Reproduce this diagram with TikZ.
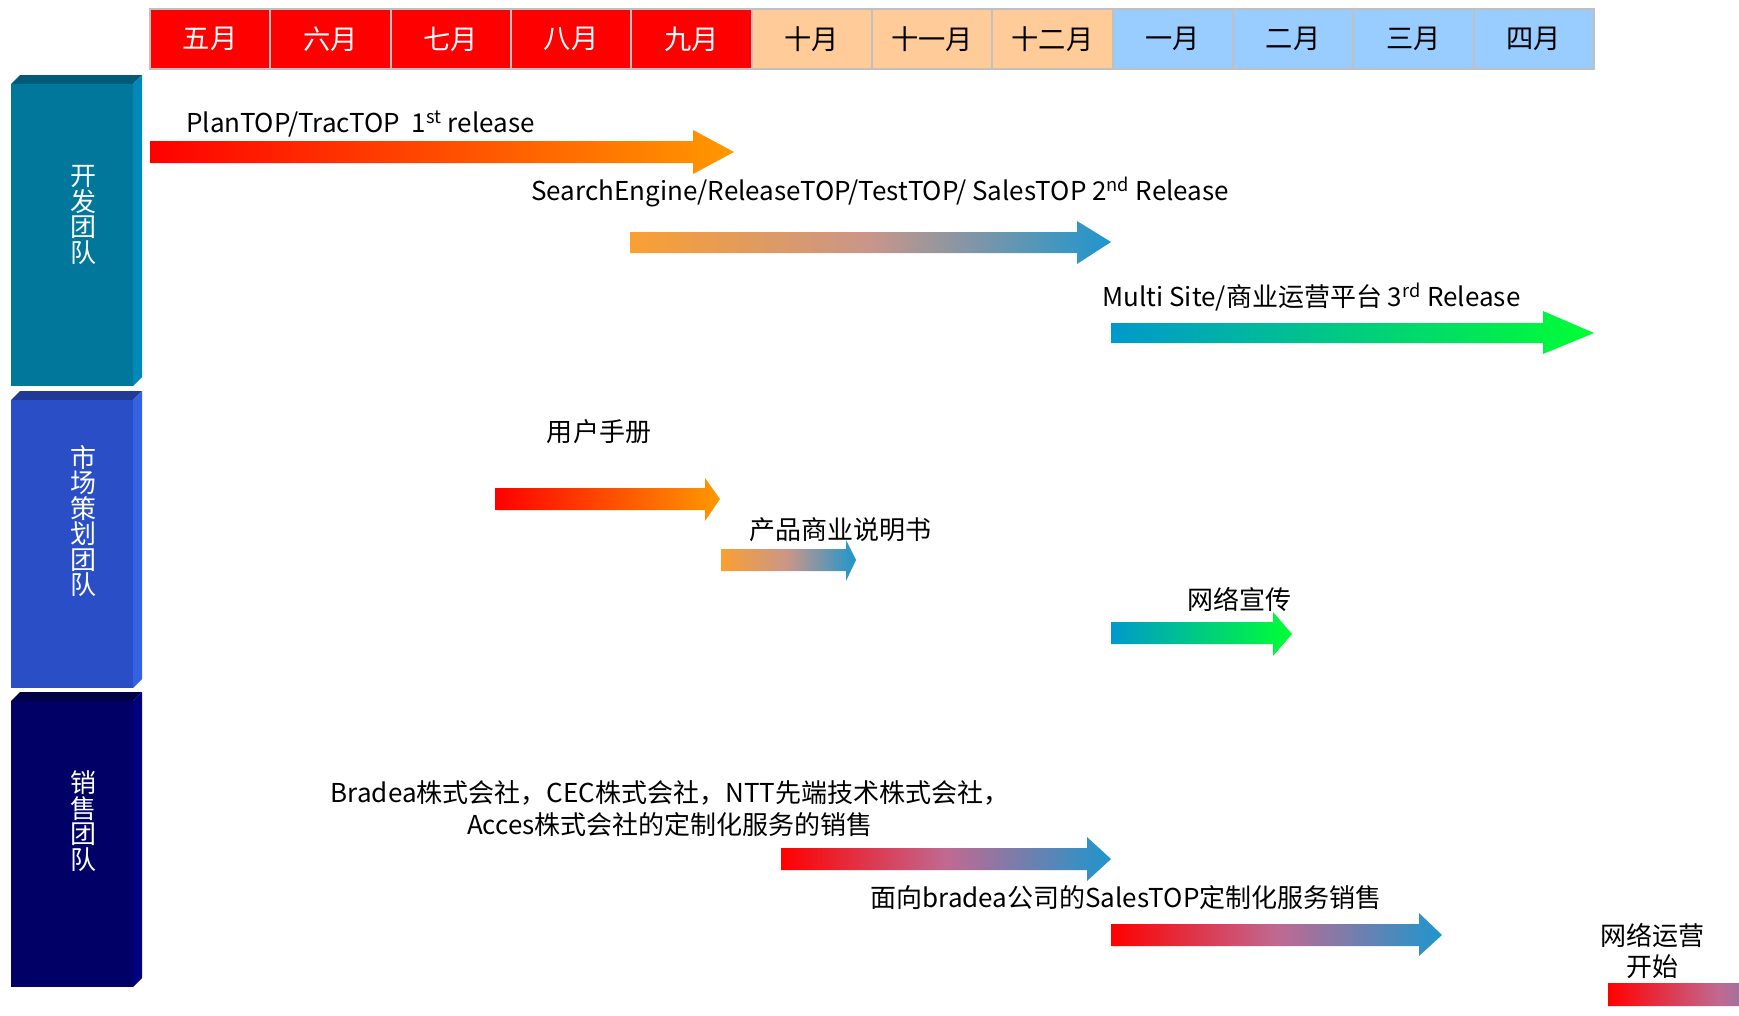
\documentclass[tikz,border=0pt]{standalone}
\usepackage{fontspec}
\setmainfont{Noto Sans CJK SC}
\usepackage{tikz}
\usetikzlibrary{positioning}
\usepackage{xcolor}

\definecolor{mred}{RGB}{255,0,0}
\definecolor{mpeach}{RGB}{255,204,153}
\definecolor{mblue}{RGB}{153,204,255}
\definecolor{monline}{RGB}{192,192,192}
\definecolor{devfront}{RGB}{0,119,155}
\definecolor{devtop}{RGB}{0,90,120}
\definecolor{devside}{RGB}{0,136,185}
\definecolor{mktfront}{RGB}{42,78,197}
\definecolor{mkttop}{RGB}{32,58,150}
\definecolor{mktside}{RGB}{52,98,226}
\definecolor{salfront}{RGB}{0,0,102}
\definecolor{saltop}{RGB}{0,0,70}
\definecolor{salside}{RGB}{0,0,128}
\definecolor{gred}{RGB}{255,0,0}
\definecolor{gorange}{RGB}{255,153,0}
\definecolor{gpale}{RGB}{250,160,50}
\definecolor{gmauve}{RGB}{200,150,138}
\definecolor{gpink}{RGB}{192,105,145}
\definecolor{gblue}{RGB}{30,150,205}
\definecolor{gteal}{RGB}{0,153,204}
\definecolor{ggreen}{RGB}{0,255,51}

\begin{document}
\begin{tikzpicture}[x=0.02cm,y=-0.02cm,
  mon/.style={draw=monline,line width=1.2pt,minimum width=2.4067cm,minimum height=1.2cm,inner sep=0pt,font=\fontsize{15.5}{16}\selectfont},
  lbl/.style={inner sep=0pt,font=\fontsize{14.8}{16}\selectfont},
  twoline/.style={lbl,align=center,font=\fontsize{14.8}{18.2}\selectfont},
  team/.style={text=white,inner sep=0pt,align=center,font=\fontsize{14.8}{14.5}\selectfont},
  hot/.style={left color=gred,right color=gorange},
  warm/.style={left color=gpale,right color=gblue,middle color=gmauve},
  cool/.style={left color=gteal,right color=ggreen},
  sale/.style={left color=gred,right color=gblue,middle color=gpink}]

\useasboundingbox (0,0) rectangle (1739,1015);
\fill[white] (0,0) rectangle (1739,1015);
\clip (0,0) rectangle (1739,1015);

% months
\node[mon,fill=mred,text=white] (m1) at (210.2,39) {五月};
\node[mon,fill=mred,text=white] (m2) at (330.5,39) {六月};
\node[mon,fill=mred,text=white] (m3) at (450.8,39) {七月};
\node[mon,fill=mred,text=white] (m4) at (571.2,39) {八月};
\node[mon,fill=mred,text=white] (m5) at (691.5,39) {九月};
\node[mon,fill=mpeach] (m6) at (811.8,39) {十月};
\node[mon,fill=mpeach] (m7) at (932.2,39) {十一月};
\node[mon,fill=mpeach] (m8) at (1052.5,39) {十二月};
\node[mon,fill=mblue] (m9) at (1172.8,39) {一月};
\node[mon,fill=mblue] (m10) at (1293.2,39) {二月};
\node[mon,fill=mblue] (m11) at (1413.5,39) {三月};
\node[mon,fill=mblue] (m12) at (1533.8,39) {四月};

% teams
\fill[devtop] (11,84) -- (20,75) -- (142,75) -- (133,84) -- cycle;
\fill[devside] (133,84) -- (142,75) -- (142,377) -- (133,386) -- cycle;
\fill[devfront] (11,84) rectangle (133,386);
\node[team] (dev) at (84,215) {开\\发\\团\\队};

\fill[mkttop] (11,400) -- (20,391) -- (142,391) -- (133,400) -- cycle;
\fill[mktside] (133,400) -- (142,391) -- (142,679) -- (133,688) -- cycle;
\fill[mktfront] (11,400) rectangle (133,688);
\node[team] (mkt) at (84,521) {市\\场\\策\\划\\团\\队};

\fill[saltop] (11,701) -- (20,692) -- (142,692) -- (133,701) -- cycle;
\fill[salside] (133,701) -- (142,692) -- (142,978) -- (133,987) -- cycle;
\fill[salfront] (11,701) rectangle (133,987);
\node[team] (sal) at (84,821) {销\\售\\团\\队};

% development
\node[lbl,anchor=west] (r1) at (186,124) {PlanTOP/TracTOP\ \ 1\textsuperscript{st} release};
\shade[hot] (150,141) -- (693,141) -- (693,130) -- (734,152) -- (693,174) -- (693,163) -- (150,163) -- cycle;
\node[lbl,anchor=west] (r2) at (531,192) {SearchEngine/ReleaseTOP/TestTOP/ SalesTOP 2\textsuperscript{nd} Release};
\shade[warm] (630,232) -- (1077,232) -- (1077,221) -- (1111,242) -- (1077,264) -- (1077,253) -- (630,253) -- cycle;
\node[lbl,anchor=west] (r3) at (1102,297) {Multi Site/商业运营平台 3\textsuperscript{rd} Release};
\shade[cool] (1111,323) -- (1543,323) -- (1543,311) -- (1594,333) -- (1543,354) -- (1543,343) -- (1111,343) -- cycle;

% marketing
\node[lbl] (manual) at (599,432) {用户手册};
\shade[hot] (495,488) -- (705,488) -- (705,478) -- (720,499) -- (705,521) -- (705,510) -- (495,510) -- cycle;
\node[lbl,anchor=west] (brochure) at (749,530) {产品商业说明书};
\shade[warm] (721,549) -- (846,549) -- (846,540) -- (856,560) -- (846,581) -- (846,571) -- (721,571) -- cycle;
\node[lbl] (web) at (1239,599) {网络宣传};
\shade[cool] (1111,622) -- (1273,622) -- (1273,612) -- (1292,634) -- (1273,656) -- (1273,644) -- (1111,644) -- cycle;

% sales
\node[twoline] (custom) at (670,809) {Bradea株式会社，CEC株式会社，NTT先端技术株式会社，\\Acces株式会社的定制化服务的销售};
\shade[sale] (781,848) -- (1087,848) -- (1087,837) -- (1111,859) -- (1087,881) -- (1087,870) -- (781,870) -- cycle;
\node[lbl] (bradea) at (1126,898) {面向bradea公司的SalesTOP定制化服务销售};
\shade[sale] (1111,924) -- (1419,924) -- (1419,913) -- (1442,935) -- (1419,956) -- (1419,946) -- (1111,946) -- cycle;
\node[twoline] (online) at (1652,951) {网络运营\\开始};
\shade[sale] (1608,983) -- (1800,983) -- (1800,972) -- (1830,994) -- (1800,1016) -- (1800,1006) -- (1608,1006) -- cycle;

\end{tikzpicture}
\end{document}
